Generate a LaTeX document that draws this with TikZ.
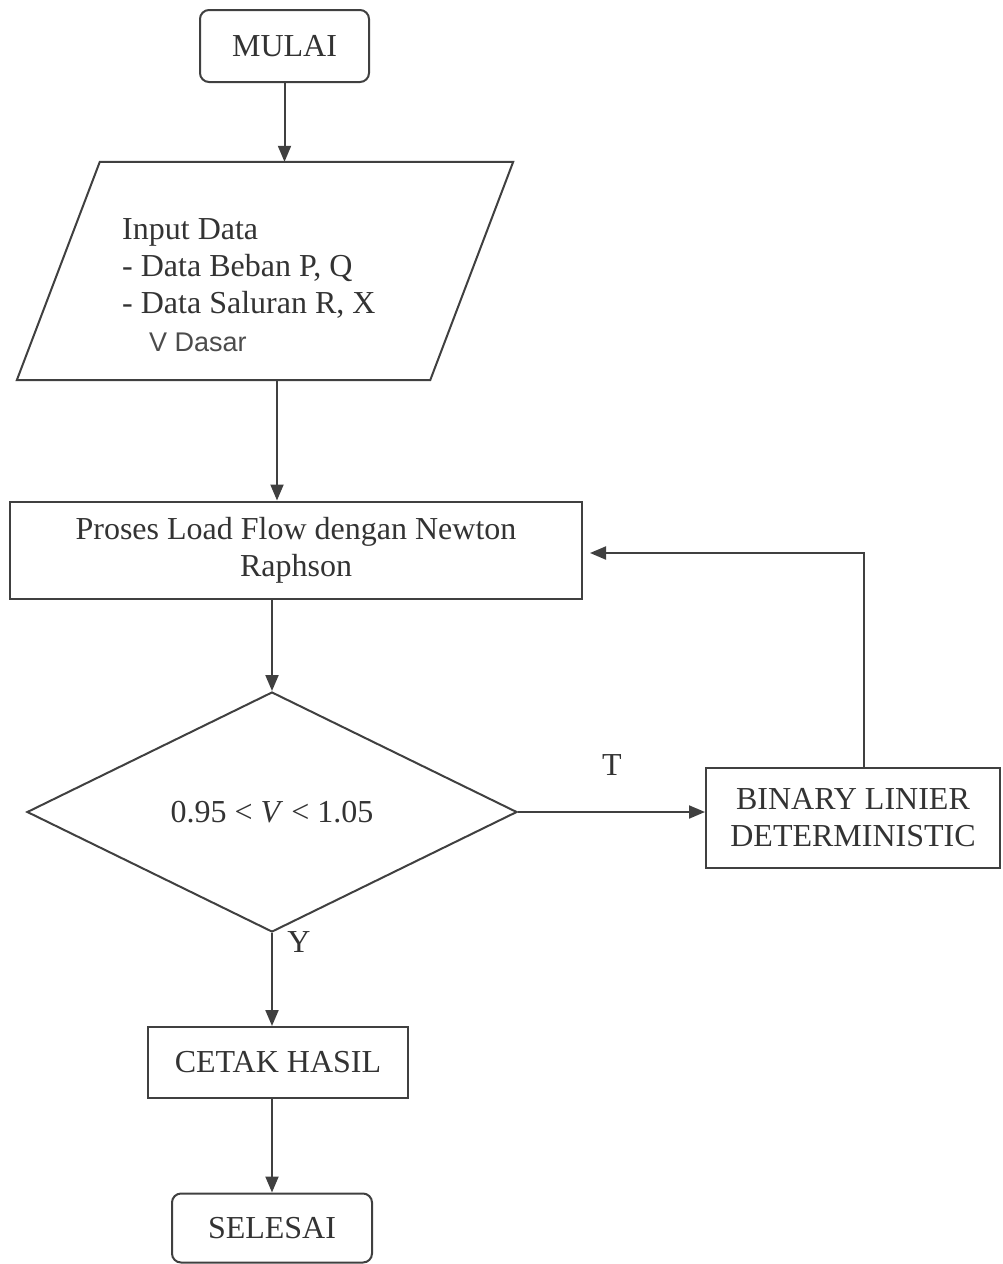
\documentclass[tikz,border=0pt]{standalone}
\usepackage{fontspec}
\setmainfont{Liberation Serif}
\newfontfamily\handfont{Liberation Sans}
\usetikzlibrary{shapes.geometric,arrows.meta,calc}

\begin{document}
\begin{tikzpicture}[x=1pt,y=-1pt,
  every node/.style={font=\fontsize{32}{37}\selectfont, text=black!80},
  line/.style={draw=black!75, line width=2pt},
  arr/.style={line, -{Triangle[length=16pt,width=13pt]}},
  terminal/.style={line, rounded corners=9pt, inner sep=0pt},
  procbox/.style={line, inner sep=0pt, align=center},
  decision/.style={line, diamond, aspect=2.04, minimum width=490pt,
                   minimum height=240pt, inner sep=0pt},
  lbl/.style={inner sep=0pt}
]
\useasboundingbox (0,0) rectangle (1002,1264);

% start / end terminals
\node[terminal, minimum width=169pt, minimum height=72pt] (mulai) at (284.5,46) {MULAI};
\node[terminal, minimum width=200pt, minimum height=69pt] (selesai) at (272,1228) {SELESAI};

% input parallelogram (the node gives the frame, the outline is drawn from its corners)
\node[inner sep=0pt, minimum width=496pt, minimum height=218pt] (input) at (265,271) {};
\draw[line] ([xshift=83pt]input.north west) -- (input.north east)
  -- ([xshift=-83pt]input.south east) -- (input.south west) -- cycle;
\node[anchor=base west, align=left, inner sep=0pt] (inputtxt) at (122,313)
  {Input Data\\- Data Beban P, Q\\- Data Saluran R, X};
\node[inner sep=0pt, font=\handfont\fontsize{27}{30}\selectfont, text=black!70] (vdasar) at (198,342) {V Dasar};

% process boxes
\node[procbox, minimum width=572pt, minimum height=97pt] (proses) at (296,550)
  {Proses Load Flow dengan Newton\\Raphson};
\node[procbox, minimum width=294pt, minimum height=100pt] (binary) at (853,818)
  {BINARY LINIER\\DETERMINISTIC};
\node[procbox, minimum width=260pt, minimum height=71pt] (cetak) at (278,1062.5)
  {CETAK HASIL};

% decision
\node[decision] (dec) at (272,812) {0.95 < \textit{V} < 1.05};

% connectors
\draw[arr] (mulai.south) -- (mulai.south |- input.north);
\draw[arr] ([xshift=12pt]input.south) -- ([xshift=12pt]input.south |- proses.north);
\draw[arr] (dec.north |- proses.south) -- (dec.north);
\draw[arr] (dec.east) -- (dec.east -| binary.west);
\draw[arr] ([xshift=11pt]binary.north) |- ([xshift=7pt,yshift=-3pt]proses.east);
\draw[arr] (dec.south) -- (dec.south |- cetak.north);
\draw[arr] (selesai.north |- cetak.south) -- (selesai.north);

% branch labels
\node[lbl] (tlabel) at (612,765) {T};
\node[lbl] (ylabel) at (299,942) {Y};
\end{tikzpicture}
\end{document}
